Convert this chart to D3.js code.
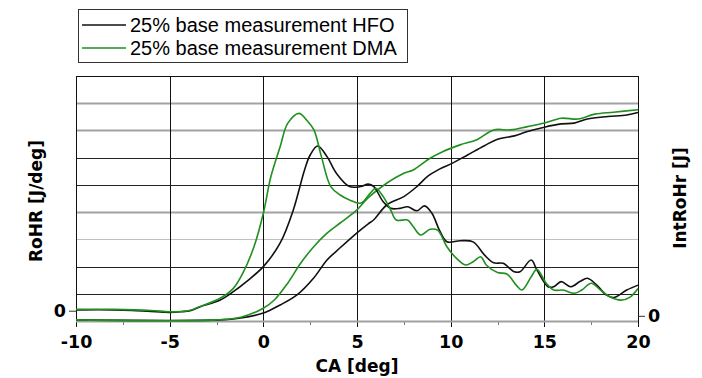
<!DOCTYPE html>
<html><head><meta charset="utf-8">
<script src="https://cdn.jsdelivr.net/npm/d3@7"></script>
<style>
body{margin:0;background:#fff;}
svg{display:block;}
.ax text{font-family:"DejaVu Sans";font-weight:bold;font-size:17.5px;fill:#000;}
</style></head>
<body><svg id="c" width="702" height="378"></svg>
<script>
// ---- data ----
const seriesNames = ["25% base measurement HFO", "25% base measurement DMA"];
const xTicks = [-10, -5, 0, 5, 10, 15, 20];
const xMinorTicks = [-7.5, -2.5, 2.5, 7.5, 12.5, 17.5];
const leftTicks = [0];
const rightTicks = [0];

// RoHR [J/deg] (left axis), [CA, value]
const rohrHFO = [[-10,0.3],[-8,0.3],[-7,0.1],[-6,-0.3],[-5,-0.6],[-4.4,-0.4],[-3.9,0.0],[-3.4,1.4],[-2.3,3.9],[-1.6,7.0],[-0.9,10.7],[0,16.2],[0.9,24.9],[1.6,37.0],[2.2,51.7],[2.5,57.2],[2.9,60.5],[3.4,56.6],[3.9,50.5],[4.6,45.6],[5.2,45.6],[5.6,46.5],[5.9,45.6],[6.4,40.0],[6.8,37.6],[7.3,37.6],[7.7,38.2],[8.2,36.7],[8.6,38.5],[9.0,35.8],[9.4,29.6],[9.8,25.3],[10.5,25.7],[11.2,25.3],[11.8,20.5],[12.3,17.6],[12.8,17.4],[13.4,14.3],[13.7,14.3],[14.3,18.6],[14.6,15.0],[15.2,8.8],[15.5,8.8],[15.9,10.7],[16.4,8.8],[16.9,10.7],[17.3,11.9],[17.8,9.4],[18.3,5.8],[18.7,4.8],[19.4,7.6],[20,9.4]];
const rohrDMA = [[-10,0.5],[-8,0.5],[-6,0.1],[-5,-0.4],[-4.4,-0.3],[-3.9,0.2],[-3.4,1.5],[-2.3,4.6],[-1.6,8.2],[-1.1,13.7],[-0.5,23.5],[0,35.8],[0.4,49.2],[0.9,60.3],[1.3,68.8],[1.9,72.5],[2.3,70.1],[2.7,66.4],[3.1,56.6],[3.6,45.6],[4.1,42.5],[4.6,40.7],[5.2,39.5],[5.7,43.1],[6.0,45.0],[6.4,41.9],[6.8,37.0],[7.1,33.3],[7.7,33.3],[8.0,30.9],[8.4,27.8],[8.9,29.9],[9.3,29.6],[9.8,23.5],[10.3,19.3],[10.8,16.8],[11.2,18.0],[11.6,19.8],[11.9,16.8],[12.5,14.0],[13.0,13.5],[13.5,9.4],[13.8,7.6],[14.3,12.5],[14.6,15.2],[15.1,10.1],[15.5,7.6],[16.0,7.6],[16.6,6.4],[17.0,7.6],[17.5,10.1],[18.0,7.6],[18.5,5.1],[19.1,3.9],[19.6,5.1],[20,8.2]];
// IntRoHr [J] (right axis), [CA, value]
const intHFO = [[-10,-1.5],[-2.3,-1.5],[-1.2,-0.8],[0,1.0],[0.9,4.0],[1.8,7.7],[2.7,14.0],[3.4,20.5],[4.1,25.0],[5.0,30.5],[5.6,33.8],[5.9,35.3],[6.6,40.8],[7.5,43.8],[8.2,47.5],[8.8,51.4],[9.4,53.9],[10.1,56.1],[10.9,59.1],[11.8,62.5],[12.5,64.9],[13.4,66.1],[14.1,67.7],[15.0,69.3],[15.9,70.5],[16.6,70.8],[17.3,72.3],[18.4,73.2],[19.4,73.8],[20,74.7]];
const intDMA = [[-10,-1.5],[-2.5,-1.5],[-1.2,-0.5],[0,2.8],[0.6,5.9],[1.3,12.0],[2.0,19.4],[2.7,25.5],[3.4,30.4],[4.1,34.1],[5.0,38.9],[5.6,43.4],[6.6,48.8],[7.5,52.4],[8.0,53.6],[8.9,57.9],[9.6,60.4],[10.5,62.8],[11.4,64.7],[12.3,68.3],[13.2,68.3],[14.1,69.5],[15.0,70.8],[15.9,72.6],[16.8,72.3],[17.7,74.1],[18.7,74.8],[20,75.7]];

// ---- layout ----
const svg = d3.select("#c");
const L = 76, R = 638, T = 76, B = 321;
const colHFO = "#111111", colDMA = "#1f8f1f";

const x = d3.scaleLinear().domain([-10, 20]).range([L, R]);
const yL = d3.scaleLinear().domain([-3.78, 86.22]).range([B, T]);
const yR = d3.scaleLinear().domain([-1.9, 88.1]).range([B, T]);
const gridY = d3.scaleLinear().domain([0, 9]).range([T, B]); // row index from top

// horizontal grid (index from top)
const gridStyle = {1:["#a2a2a2",2],2:["#a2a2a2",2],3:["#222",1],4:["#222",1],5:["#a2a2a2",2],6:["#c0c0c0",1.2],7:["#222",1],8:["#222",1]};
svg.append("g").selectAll("line").data(d3.range(1, 9)).join("line")
  .attr("x1", L).attr("x2", R)
  .attr("y1", d => Math.round(gridY(d)) + 0.5).attr("y2", d => Math.round(gridY(d)) + 0.5)
  .attr("stroke", d => gridStyle[d][0]).attr("stroke-width", d => gridStyle[d][1]);

// vertical grid (major ticks)
svg.append("g").selectAll("line").data(xTicks.slice(1, -1)).join("line")
  .attr("x1", d => Math.round(x(d)) + 0.5).attr("x2", d => Math.round(x(d)) + 0.5)
  .attr("y1", T).attr("y2", B + 6).attr("stroke", "#111").attr("stroke-width", 1);

// minor ticks
svg.append("g").selectAll("line").data(xMinorTicks).join("line")
  .attr("x1", d => Math.round(x(d)) + 0.5).attr("x2", d => Math.round(x(d)) + 0.5)
  .attr("y1", B).attr("y2", B + 4).attr("stroke", "#777").attr("stroke-width", 1);

// frame
svg.append("line").attr("x1", L).attr("x2", R).attr("y1", T + 0.5).attr("y2", T + 0.5).attr("stroke", "#111");
svg.append("line").attr("x1", L + 0.5).attr("x2", L + 0.5).attr("y1", T).attr("y2", B + 6).attr("stroke", "#111");
svg.append("line").attr("x1", R + 0.5).attr("x2", R + 0.5).attr("y1", T).attr("y2", B + 6).attr("stroke", "#111");
svg.append("line").attr("x1", L).attr("x2", R).attr("y1", B + 0.5).attr("y2", B + 0.5).attr("stroke", "#a0a0a0").attr("stroke-width", 2);

// axes
const xAxis = svg.append("g").attr("class", "ax").attr("transform", `translate(0,${B + 7})`)
  .call(d3.axisBottom(x).tickValues(xTicks).tickSize(0).tickPadding(0).tickFormat(d => String(d)));
xAxis.select(".domain").remove();
xAxis.selectAll("text").attr("dy", "0").attr("y", 20);

const lAxis = svg.append("g").attr("class", "ax").attr("transform", `translate(${L},0)`)
  .call(d3.axisLeft(yL).tickValues(leftTicks).tickSize(7).tickPadding(3).tickFormat(d => String(d)));
lAxis.select(".domain").remove();
lAxis.selectAll("line").attr("stroke", "#333");

const rAxis = svg.append("g").attr("class", "ax").attr("transform", `translate(${R},0)`)
  .call(d3.axisRight(yR).tickValues(rightTicks).tickSize(7).tickPadding(3).tickFormat(d => String(d)));
rAxis.select(".domain").remove();
rAxis.selectAll("line").attr("stroke", "#333");

// titles
const tf = "font-family:'DejaVu Sans';font-weight:bold;font-size:17px";
svg.append("text").attr("x", 357).attr("y", 372).attr("text-anchor", "middle").attr("style", tf).text("CA [deg]");
svg.append("text").attr("transform", "translate(42,201) rotate(-90)").attr("text-anchor", "middle").attr("style", tf).text("RoHR [J/deg]");
svg.append("text").attr("transform", "translate(686,198) rotate(-90)").attr("text-anchor", "middle").attr("style", tf).text("IntRoHr [J]");

// lines
svg.append("clipPath").attr("id", "pc").append("rect").attr("x", L).attr("y", T).attr("width", R - L + 1).attr("height", B - T + 2);
const lineL = d3.line().x(d => x(d[0])).y(d => yL(d[1])).curve(d3.curveCatmullRom.alpha(0.5));
const lineR = d3.line().x(d => x(d[0])).y(d => yR(d[1])).curve(d3.curveCatmullRom.alpha(0.5));
const pg = svg.append("g").attr("clip-path", "url(#pc)");
pg.append("path").attr("d", lineR(intHFO)).attr("fill", "none").attr("stroke", colHFO).attr("stroke-width", 1.6);
pg.append("path").attr("d", lineR(intDMA)).attr("fill", "none").attr("stroke", colDMA).attr("stroke-width", 1.6);
pg.append("path").attr("d", lineL(rohrHFO)).attr("fill", "none").attr("stroke", colHFO).attr("stroke-width", 1.6);
pg.append("path").attr("d", lineL(rohrDMA)).attr("fill", "none").attr("stroke", colDMA).attr("stroke-width", 1.6);

// legend
const lg = svg.append("g");
lg.append("rect").attr("x", 78.5).attr("y", 9.5).attr("width", 329).attr("height", 53).attr("fill", "#fff").attr("stroke", "#333");
const cols = [colHFO, colDMA];
seriesNames.forEach((n, i) => {
  const yy = 25 + i * 23;
  lg.append("line").attr("x1", 82).attr("x2", 126).attr("y1", yy).attr("y2", yy).attr("stroke", cols[i]).attr("stroke-width", 1.6);
  lg.append("text").attr("x", 130).attr("y", yy + 7).attr("style", "font-family:'Liberation Sans',Arial;font-size:20px").attr("fill", "#000").text(n);
});
</script></body></html>
